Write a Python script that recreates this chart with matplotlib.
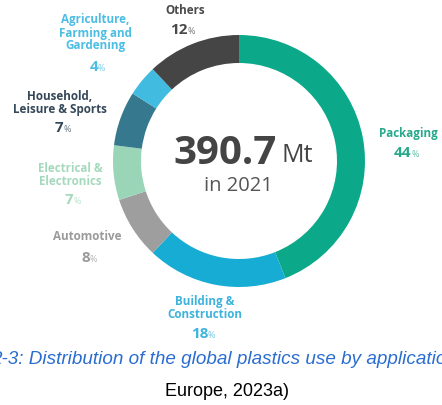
import matplotlib
matplotlib.use("Agg")
import matplotlib.pyplot as plt

# 塑料用途分布（2021年，全球）
categories = ["Packaging", "Building &\nConstruction", "Automotive",
              "Electrical &\nElectronics", "Household,\nLeisure & Sports",
              "Agriculture,\nFarming and\nGardening", "Others"]
shares = [44, 18, 8, 7, 7, 4, 12]
colors = ["#0ba98a", "#17acd3", "#9e9e9e", "#9ad5b7", "#36798e", "#41bce0", "#454545"]
label_colors = ["#27a98c", "#3fb3dc", "#9a9a9a", "#a5d9bd", "#34485a", "#4cbde3", "#4a4a4a"]
# 标签位置（像素坐标，文字中心 / 百分比中心）
label_pos = [(408, 133, 153), (205, 308, 334), (87, 237, 258), (70, 175, 200),
             (60, 103, 128), (95, 33, 67), (185, 10, 30)]

total = "390.7"
year = "in 2021"

W, H = 442, 405
fig = plt.figure(figsize=(W / 100, H / 100), dpi=100)
ax = fig.add_axes([0, 0, 1, 1])

ax.pie(shares, colors=colors, startangle=-90, counterclock=True,
       center=(239, 161), radius=126,
       wedgeprops=dict(width=28, linewidth=0))
ax.set_xlim(0, W)
ax.set_ylim(H, 0)
ax.set_aspect("auto")
ax.axis("off")

font = ["Open Sans", "DejaVu Sans"]
for name, val, lc, (x, y, yp) in zip(categories, shares, label_colors, label_pos):
    ax.text(x, y, name, ha="center", va="center", fontsize=8.4, fontweight="bold",
            color=lc, family=font, linespacing=1.0)
    ax.text(x + 3, yp, str(val), ha="right", va="center", fontsize=11,
            fontweight="bold", color=lc, family=font)
    ax.text(x + 3, yp + 1.5, "%", ha="left", va="center", fontsize=6.5,
            color=lc, alpha=0.75, family=font)

ax.text(277, 153, total, ha="right", va="center", fontsize=29, fontweight="bold",
        color="#444444", family=font)
ax.text(282, 156, "Mt", ha="left", va="center", fontsize=18, color="#444444", family=font)
ax.text(238, 186, year, ha="center", va="center", fontsize=14.5, color="#555555", family=font)

cap_font = ["Liberation Sans", "DejaVu Sans"]
ax.text(-9, 360, "2-3: Distribution of the global plastics use by application (Plastics",
        ha="left", va="center", fontsize=13.6, style="italic", color="#2a6dd0",
        family=cap_font)
ax.text(227, 391, "Europe, 2023a)", ha="center", va="center", fontsize=13,
        color="black", family=cap_font)

fig.savefig("out.png", dpi=100)
